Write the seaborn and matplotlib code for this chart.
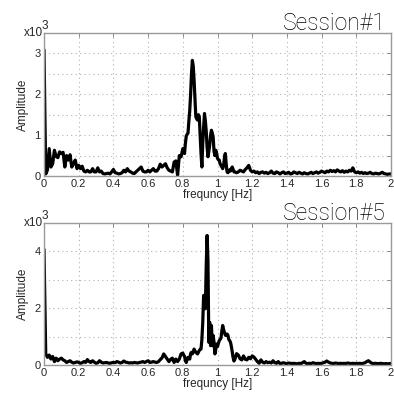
import numpy as np
import matplotlib
matplotlib.use("Agg")
import matplotlib.pyplot as plt
import seaborn as sns

# frequency grid (Hz): coarse, fine around the peak, coarse again
freq_low = np.linspace(0.0, 0.80, 81)
freq_peak = np.linspace(0.805, 1.10, 60)
freq_high = np.linspace(1.11, 2.00, 90)

# Session#1 amplitude (x10^3)
s1_low = [3.09, 0.05, 0.15, 0.67, 0.22, 0.30, 0.63, 0.48, 0.45, 0.59,
          0.55, 0.58, 0.22, 0.50, 0.39, 0.52, 0.22, 0.30, 0.39, 0.18,
          0.26, 0.18, 0.24, 0.12, 0.10, 0.14, 0.10, 0.10, 0.18, 0.10,
          0.10, 0.20, 0.10, 0.12, 0.06, 0.05, 0.06, 0.07, 0.05, 0.10,
          0.16, 0.08, 0.07, 0.05, 0.06, 0.08, 0.14, 0.10, 0.18, 0.12,
          0.10, 0.07, 0.06, 0.10, 0.14, 0.18, 0.22, 0.12, 0.10, 0.10,
          0.14, 0.10, 0.14, 0.18, 0.12, 0.12, 0.18, 0.29, 0.22, 0.26,
          0.30, 0.20, 0.14, 0.12, 0.10, 0.34, 0.37, 0.02, 0.50, 0.47,
          0.67]
s1_peak = [0.60, 0.55, 0.80, 0.98, 1.02, 1.05, 1.35, 1.60, 2.00, 2.50,
           2.83, 2.70, 2.35, 1.90, 1.45, 1.40, 1.37, 1.50, 1.45, 1.00,
           0.55, 0.22, 0.80, 1.20, 1.53, 1.35, 1.10, 0.70, 0.47, 0.60,
           0.75, 1.00, 1.12, 1.05, 0.95, 0.60, 0.50, 0.63, 0.55, 0.43,
           0.40, 0.39, 0.30, 0.26, 0.22, 0.18, 0.25, 0.45, 0.55, 0.30,
           0.10, 0.08, 0.12, 0.15, 0.12, 0.18, 0.22, 0.16, 0.10, 0.10]
s1_high = [0.08, 0.10, 0.14, 0.12, 0.10, 0.16, 0.20, 0.26, 0.14, 0.10,
           0.12, 0.08, 0.10, 0.06, 0.09, 0.10, 0.07, 0.09, 0.06, 0.08,
           0.12, 0.07, 0.06, 0.10, 0.08, 0.05, 0.08, 0.10, 0.06, 0.07,
           0.09, 0.05, 0.06, 0.10, 0.08, 0.06, 0.09, 0.07, 0.05, 0.08,
           0.06, 0.05, 0.07, 0.09, 0.06, 0.08, 0.10, 0.07, 0.09, 0.12,
           0.10, 0.08, 0.12, 0.10, 0.14, 0.11, 0.13, 0.10, 0.15, 0.12,
           0.10, 0.13, 0.09, 0.12, 0.10, 0.14, 0.12, 0.20, 0.10, 0.08,
           0.10, 0.07, 0.09, 0.06, 0.08, 0.06, 0.07, 0.09, 0.06, 0.05,
           0.07, 0.06, 0.05, 0.07, 0.09, 0.06, 0.05, 0.04, 0.05, 0.05]

# Session#5 amplitude (x10^3)
s5_low = [4.07, 0.39, 0.27, 0.35, 0.21, 0.30, 0.12, 0.24, 0.15, 0.21,
          0.24, 0.18, 0.15, 0.09, 0.12, 0.15, 0.10, 0.07, 0.09, 0.11,
          0.09, 0.06, 0.08, 0.12, 0.09, 0.19, 0.12, 0.09, 0.15, 0.10,
          0.06, 0.08, 0.15, 0.10, 0.07, 0.08, 0.09, 0.07, 0.06, 0.08,
          0.09, 0.08, 0.12, 0.10, 0.07, 0.09, 0.14, 0.10, 0.09, 0.07,
          0.08, 0.07, 0.09, 0.08, 0.07, 0.09, 0.10, 0.12, 0.09, 0.12,
          0.15, 0.09, 0.10, 0.12, 0.10, 0.09, 0.12, 0.19, 0.25, 0.39,
          0.30, 0.21, 0.12, 0.20, 0.24, 0.09, 0.21, 0.12, 0.21, 0.39,
          0.42]
s5_peak = [0.35, 0.30, 0.15, 0.09, 0.20, 0.27, 0.22, 0.21, 0.40, 0.45,
           0.39, 0.45, 0.56, 0.50, 0.45, 0.42, 0.39, 0.45, 0.51, 0.55,
           0.56, 0.90, 1.50, 2.45, 2.40, 1.98, 3.50, 4.56, 3.70, 0.80,
           1.50, 0.68, 1.39, 0.68, 1.04, 0.80, 0.39, 0.55, 0.74, 0.65,
           0.75, 0.86, 0.90, 0.95, 1.20, 1.39, 1.25, 1.15, 1.05, 1.04,
           1.09, 1.05, 0.90, 0.86, 0.80, 0.65, 0.45, 0.26, 0.14, 0.20]
s5_high = [0.40, 0.35, 0.22, 0.18, 0.32, 0.20, 0.18, 0.27, 0.22, 0.32,
           0.28, 0.20, 0.12, 0.06, 0.18, 0.10, 0.07, 0.12, 0.08, 0.10,
           0.07, 0.15, 0.08, 0.06, 0.12, 0.05, 0.06, 0.08, 0.06, 0.05,
           0.07, 0.06, 0.05, 0.06, 0.05, 0.04, 0.06, 0.05, 0.08, 0.12,
           0.06, 0.05, 0.06, 0.05, 0.08, 0.06, 0.05, 0.06, 0.05, 0.06,
           0.08, 0.10, 0.14, 0.10, 0.07, 0.06, 0.05, 0.07, 0.06, 0.05,
           0.06, 0.05, 0.06, 0.05, 0.07, 0.06, 0.05, 0.06, 0.05, 0.06,
           0.05, 0.06, 0.05, 0.06, 0.08, 0.12, 0.15, 0.10, 0.06, 0.05,
           0.06, 0.05, 0.05, 0.06, 0.05, 0.04, 0.05, 0.04, 0.05, 0.05]

sessions = ["Session#1", "Session#5"]
x_ticks = [0, 0.2, 0.4, 0.6, 0.8, 1, 1.2, 1.4, 1.6, 1.8, 2]

freq = np.concatenate([freq_low, freq_peak, freq_high])
amps = [np.concatenate([s1_low, s1_peak, s1_high]),
        np.concatenate([s5_low, s5_peak, s5_high])]

sns.set_theme(style="white")
plt.rcParams['font.family'] = ['Liberation Sans', 'DejaVu Sans']

fig = plt.figure(figsize=(3.94, 3.93), dpi=100)
ax1 = fig.add_axes([44/394, 1 - 176/393, 347/394, 143/393])
ax2 = fig.add_axes([44/394, 1 - 365/393, 347/394, 142/393])

y_setups = [(np.arange(0, 3.51, 0.5), 3.5, 1), (np.arange(0, 5.01, 1), 5, 2)]

for ax, name, amp, (yt, ytop, step) in zip([ax1, ax2], sessions, amps, y_setups):
    sns.lineplot(x=freq, y=amp, ax=ax, color='black', lw=2.3, sort=False)
    ax.set_xlim(0, 2)
    ax.set_ylim(0, ytop)
    ax.set_xticks(x_ticks)
    ax.set_xticklabels([f"{t:g}" for t in x_ticks])
    ax.set_yticks(yt)
    ax.set_yticklabels([f"{t:g}" if abs(t / step - round(t / step)) < 1e-6 else "" for t in yt])
    ax.grid(True, color='#b0b0b0', linestyle=(0, (1, 3)), linewidth=0.8)
    ax.tick_params(direction='in', length=3, width=0.6, color='#777777',
                   top=True, right=True, labelsize=8, pad=2.5)
    for sp in ax.spines.values():
        sp.set_color('#9a9a9a')
        sp.set_linewidth(1.0)
    ax.set_xlabel('frequncy [Hz]', fontsize=8.5, labelpad=0)
    ax.set_ylabel('Amplitude', fontsize=8.5, labelpad=4)
    ax.text(1.0 - 5/347, 1.0 + 3/143, name, transform=ax.transAxes,
            ha='right', va='baseline', fontsize=16.5, color='black',
            family=['Roboto', 'Liberation Sans'], fontweight='light')
    ax.text(-1/347, 1.0, 'x10', transform=ax.transAxes, ha='right', va='center',
            fontsize=8.5)
    ax.text(1/347, 1.0 + 7/143, '3', transform=ax.transAxes, ha='center', va='center',
            fontsize=8.5)

fig.savefig('out.png', dpi=100)
